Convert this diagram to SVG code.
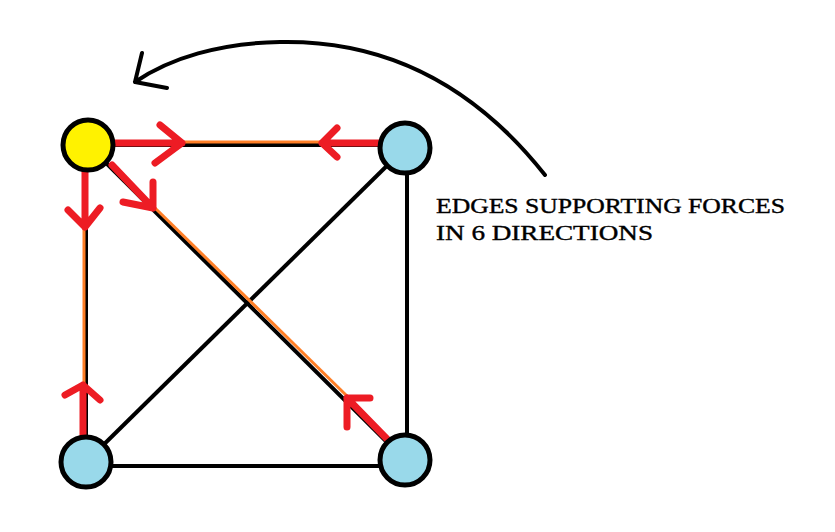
<svg xmlns="http://www.w3.org/2000/svg" width="835" height="532" viewBox="0 0 835 532">
<style>
.edge{stroke:#000;stroke-width:4;fill:none}
.orange{stroke:#FF7F27;stroke-width:3;fill:none}
.force{stroke:#ED1C24;stroke-width:7;fill:none;stroke-linecap:round;stroke-linejoin:round}
.node{stroke:#000;stroke-width:5}
.label{font-family:"Liberation Serif",serif;font-size:22px;fill:#000;stroke:#000;stroke-width:0.4}
</style>
<rect width="835" height="532" fill="#fff"/>
<g id="connectors">
<line class="edge" x1="88" y1="145" x2="405" y2="145"/>
<line class="edge" x1="86" y1="145" x2="86" y2="464"/>
<line class="edge" x1="407" y1="148" x2="407" y2="460"/>
<line class="edge" x1="86" y1="466" x2="405" y2="466"/>
<line class="edge" x1="405" y1="148" x2="86" y2="462"/>
<line class="edge" x1="88" y1="145" x2="405" y2="460"/>
<line class="orange" x1="182" y1="142" x2="322" y2="142"/>
<line class="orange" x1="84" y1="227" x2="84" y2="385"/>
<line class="orange" x1="154" y1="207" x2="348" y2="397"/>
<path class="force" d="M115 143 H182 M160 125 L182 143 L155 163"/>
<path class="force" d="M380 143 H322 M337 128 L322 143 L337 157"/>
<path class="force" d="M85 168 V227 M68 210 L85 227 L100 208"/>
<path class="force" d="M112 165 L153 208 M153 182 L153 208 L123 202"/>
<path class="force" d="M387 439 L347 398 M370 398 L347 398 L347 427"/>
<path class="force" d="M83 435 V385 M65 395 L83 385 L100 400"/>
<path class="edge" d="M545 175 C470 80 380 40 280 42 C220 43 170 58 135 82 M142 53 L135 82 L167 88" stroke-linecap="round" stroke-linejoin="round"/>
</g>
<g id="node-yellow"><circle class="node" cx="88" cy="145" r="25" fill="#FFF200"/></g>
<g id="node-top-right"><circle class="node" cx="405" cy="148" r="25" fill="#99D9EA"/></g>
<g id="node-bottom-left"><circle class="node" cx="86" cy="462" r="25" fill="#99D9EA"/></g>
<g id="node-bottom-right"><circle class="node" cx="405" cy="460" r="25" fill="#99D9EA"/></g>
<g id="label">
<text class="label" x="436" y="213" textLength="349" lengthAdjust="spacingAndGlyphs">EDGES SUPPORTING FORCES</text>
<text class="label" x="436" y="240" textLength="217" lengthAdjust="spacingAndGlyphs">IN 6 DIRECTIONS</text>
</g>
</svg>
